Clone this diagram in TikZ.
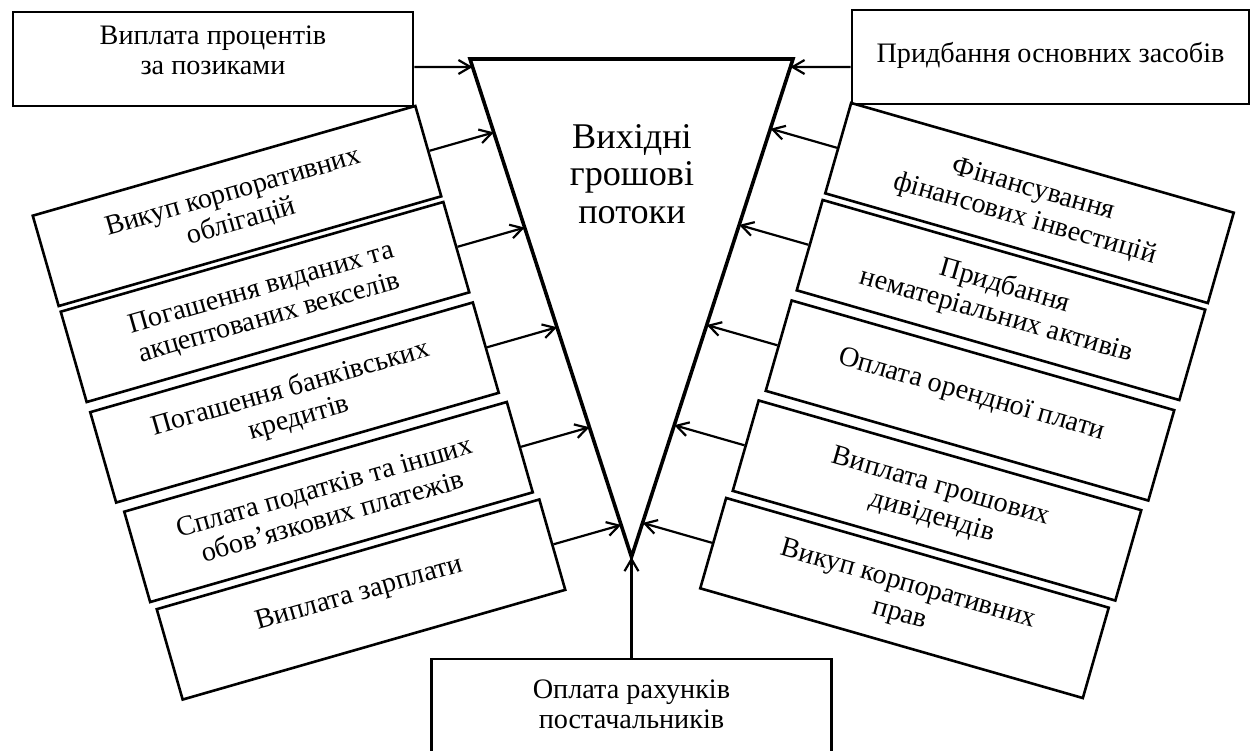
\documentclass[tikz,border=0pt]{standalone}
\usepackage{fontspec}
\setmainfont{Liberation Serif}
\usetikzlibrary{arrows.meta}
% text block of a box: fixed height, first baseline #1 below the top edge
\newcommand\celltext[2]{\parbox[c][47pt][t]{196pt}{\centering\rule{0pt}{#1}#2\par}}
\begin{document}
\begin{tikzpicture}[x=0.5pt,y=-0.5pt,
  frame/.style={draw, line width=1.3pt, inner sep=0pt, minimum height=47pt,
    minimum width=199pt, font=\fontsize{14.1}{15.3}\selectfont},
  leftbox/.style={frame, rotate=16},
  rightbox/.style={frame, rotate=-16},
  flow/.style={line width=1.1pt, -{Straight Barb[length=6pt,width=7pt,line width=1.1pt]}},
  funnel/.style={line width=1.8pt, line join=miter}]
\useasboundingbox (0,0) rectangle (1250,751);
\clip (0,0) rectangle (1250,751);

% the funnel
\coordinate (A) at (470,59);
\coordinate (B) at (793,59);
\coordinate (C) at (631.5,557);
\draw[funnel] (A) -- (B) -- (C) -- cycle;
\node[font=\fontsize{18.1}{18.6}\selectfont, align=center] (title) at (632,174)
  {Вихідні\\грошові\\потоки};

% boxes at the top and bottom
\node[frame, minimum width=200pt] (pl) at (213,59)
  {\celltext{16pt}{Виплата процентів\\за позиками}};
\node[frame, minimum width=198.5pt] (pr) at (1050.5,57)
  {\celltext{26pt}{Придбання основних засобів}};
\node[frame, minimum width=200pt] (pb) at (631.5,706)
  {\celltext{19.5pt}{Оплата рахунків\\постачальників}};

% left column
\node[leftbox] (l1) at (237,206)   {\celltext{20pt}{Викуп корпоративних\\облігацій}};
\node[leftbox] (l2) at (265,302)   {\celltext{20pt}{Погашення виданих та\\акцептованих векселів}};
\node[leftbox] (l3) at (294.5,402.5) {\celltext{20pt}{Погашення банківських\\кредитів}};
\node[leftbox] (l4) at (328.5,502) {\celltext{20pt}{Сплата податків та інших\\обов’язкових платежів}};
\node[leftbox] (l5) at (361,599.5) {\celltext{24pt}{Виплата зарплати}};

% right column
\node[rightbox] (r1) at (1029.5,203) {\celltext{20pt}{Фінансування\\фінансових інвестицій}};
\node[rightbox] (r2) at (1001,300)   {\celltext{20pt}{Придбання\\нематеріальних активів}};
\node[rightbox] (r3) at (970,400.5)  {\celltext{24pt}{Оплата орендної плати}};
\node[rightbox] (r4) at (937,500.5)  {\celltext{20pt}{Виплата грошових\\дивідендів}};
\node[rightbox] (r5) at (904.5,598)  {\celltext{20pt}{Викуп корпоративних\\прав}};

% flows into the funnel
\coordinate (ya) at (0,67);
\coordinate (yb) at (1250,67);
\draw[flow] (pl.east |- ya) -- (intersection of ya--yb and A--C);
\draw[flow] (pr.west |- ya) -- (intersection of ya--yb and B--C);
\draw[flow] (pb.north) -- (C);
\foreach \n in {l1,l2,l3,l4,l5}
  \draw[flow] (\n.east) -- (intersection of \n.west--\n.east and A--C);
\foreach \n in {r1,r2,r3,r4,r5}
  \draw[flow] (\n.west) -- (intersection of \n.west--\n.east and B--C);
\end{tikzpicture}
\end{document}
